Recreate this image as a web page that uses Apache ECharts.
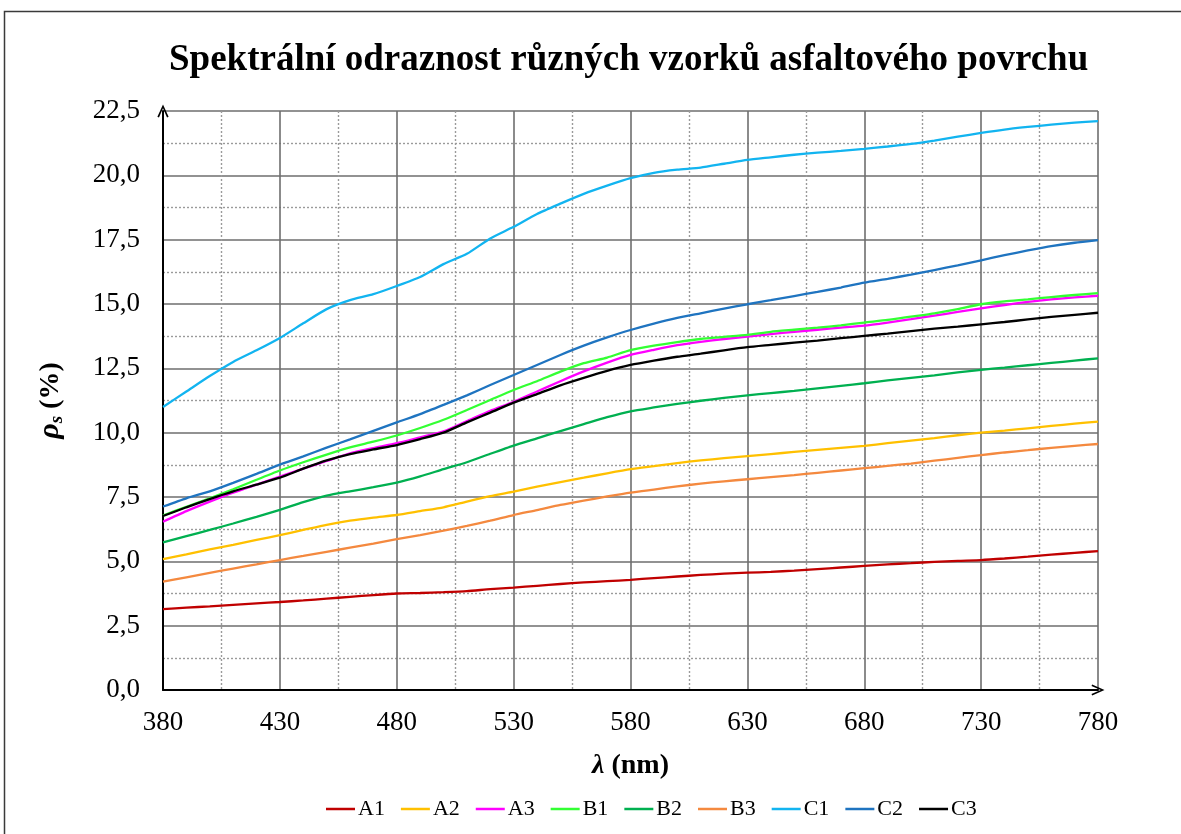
<!DOCTYPE html>
<html>
<head>
<meta charset="utf-8">
<title>Spektrální odraznost asfaltu</title>
<script src="https://cdn.jsdelivr.net/npm/echarts@6/dist/echarts.min.js"></script>
<style>
  html, body { margin: 0; padding: 0; background: #fff; }
  #chart { width: 1181px; height: 834px; }
</style>
</head>
<body>
<div id="chart"></div>
<script>
// Wavelengths (nm), sampled every 10 nm
const wavelengths = [380, 390, 400, 410, 420, 430, 440, 450, 460, 470, 480, 490, 500, 510, 520, 530, 540, 550, 560, 570, 580,
                     590, 600, 610, 620, 630, 640, 650, 660, 670, 680, 690, 700, 710, 720, 730, 740, 750, 760, 770, 780];

// Spectral reflectance (%) of each sample
const A1 = [3.14, 3.20, 3.25, 3.31, 3.37, 3.42, 3.48, 3.55, 3.62, 3.69, 3.75, 3.77, 3.80, 3.84, 3.92, 3.98, 4.05, 4.12, 4.18, 4.23, 4.28,
            4.35, 4.41, 4.47, 4.52, 4.56, 4.59, 4.64, 4.70, 4.76, 4.82, 4.88, 4.93, 4.98, 5.02, 5.05, 5.11, 5.18, 5.26, 5.33, 5.40];
const A2 = [5.09, 5.27, 5.46, 5.64, 5.83, 6.02, 6.22, 6.42, 6.58, 6.70, 6.80, 6.95, 7.10, 7.32, 7.53, 7.71, 7.90, 8.08, 8.25, 8.42, 8.58,
            8.70, 8.82, 8.92, 9.01, 9.09, 9.17, 9.25, 9.33, 9.41, 9.49, 9.59, 9.69, 9.79, 9.90, 10.00, 10.08, 10.17, 10.26, 10.35, 10.43];
const A3 = [6.54, 6.95, 7.32, 7.67, 7.98, 8.29, 8.60, 8.90, 9.20, 9.40, 9.59, 9.82, 10.05, 10.45, 10.85, 11.20, 11.60, 12.00, 12.38, 12.72, 13.02,
            13.22, 13.40, 13.53, 13.64, 13.73, 13.83, 13.92, 14.00, 14.08, 14.16, 14.28, 14.41, 14.55, 14.69, 14.83, 14.96, 15.08, 15.18, 15.26, 15.32];
const B1 = [6.78, 7.12, 7.45, 7.80, 8.17, 8.53, 8.85, 9.15, 9.43, 9.65, 9.89, 10.18, 10.50, 10.88, 11.27, 11.66, 12.00, 12.37, 12.70, 12.92, 13.21,
            13.38, 13.52, 13.64, 13.72, 13.80, 13.92, 14.00, 14.08, 14.17, 14.28, 14.38, 14.51, 14.64, 14.80, 14.99, 15.10, 15.18, 15.27, 15.35, 15.42];
const B2 = [5.74, 5.98, 6.22, 6.47, 6.73, 7.00, 7.30, 7.55, 7.72, 7.88, 8.06, 8.30, 8.58, 8.85, 9.18, 9.50, 9.78, 10.06, 10.33, 10.60, 10.83,
            10.98, 11.12, 11.24, 11.35, 11.45, 11.54, 11.62, 11.72, 11.82, 11.92, 12.03, 12.13, 12.23, 12.34, 12.44, 12.53, 12.62, 12.71, 12.80, 12.89];
const B3 = [4.21, 4.38, 4.55, 4.72, 4.88, 5.05, 5.21, 5.37, 5.53, 5.69, 5.86, 6.02, 6.19, 6.38, 6.58, 6.80, 6.99, 7.19, 7.36, 7.52, 7.67,
            7.79, 7.91, 8.02, 8.11, 8.19, 8.27, 8.35, 8.44, 8.53, 8.62, 8.71, 8.80, 8.91, 9.02, 9.13, 9.23, 9.32, 9.41, 9.49, 9.56];
const C1 = [11.00, 11.60, 12.20, 12.75, 13.20, 13.68, 14.25, 14.80, 15.15, 15.38, 15.70, 16.05, 16.55, 16.95, 17.55, 18.00, 18.50, 18.90, 19.28, 19.60, 19.89,
            20.10, 20.22, 20.30, 20.45, 20.60, 20.70, 20.80, 20.88, 20.95, 21.03, 21.12, 21.22, 21.35, 21.50, 21.65, 21.78, 21.88, 21.97, 22.05, 22.11];
const C2 = [7.13, 7.45, 7.72, 8.05, 8.40, 8.76, 9.08, 9.42, 9.74, 10.07, 10.40, 10.72, 11.08, 11.45, 11.85, 12.24, 12.63, 13.02, 13.38, 13.70, 13.99,
            14.24, 14.46, 14.64, 14.82, 14.99, 15.15, 15.31, 15.47, 15.64, 15.83, 15.98, 16.14, 16.32, 16.50, 16.70, 16.90, 17.08, 17.25, 17.38, 17.48];
const C3 = [6.76, 7.10, 7.42, 7.72, 7.98, 8.25, 8.60, 8.92, 9.17, 9.35, 9.52, 9.75, 10.00, 10.40, 10.78, 11.17, 11.50, 11.84, 12.13, 12.40, 12.63,
            12.80, 12.95, 13.07, 13.20, 13.32, 13.41, 13.50, 13.58, 13.67, 13.76, 13.85, 13.95, 14.04, 14.12, 14.21, 14.30, 14.40, 14.50, 14.58, 14.66];

const seriesNames = ['A1', 'A2', 'A3', 'B1', 'B2', 'B3', 'C1', 'C2', 'C3'];
const seriesValues = [A1, A2, A3, B1, B2, B3, C1, C2, C3];
const seriesColors = ['#C00000', '#FFC000', '#FF00FF', '#33FF33', '#00B050', '#F4893F', '#12B4F0', '#1F74C0', '#000000'];

// The wavelength axis starts at 380 nm; ticks are counted from this origin
const WL_START = 380;
const WL_END = 780;

const FONT = '"Liberation Serif", "Times New Roman", serif';
const fmtComma = v => v.toFixed(1).replace('.', ',');

const chart = echarts.init(document.getElementById('chart'), null, { renderer: 'canvas' });

const arrowPath = 'path://M0,11 L5,0 L10,11 L8.6,11.6 L5,3.4 L1.4,11.6 Z';

chart.setOption({
  animation: false,
  backgroundColor: '#ffffff',
  textStyle: { fontFamily: FONT, color: '#000' },
  title: {
    text: 'Spektrální odraznost různých vzorků asfaltového povrchu',
    left: 164,
    top: 37,
    textStyle: { fontFamily: FONT, fontWeight: 'bold', fontSize: 37, color: '#000' }
  },
  graphic: [{
    type: 'rect',
    shape: { x: 4.5, y: 11.5, width: 1300, height: 900 },
    style: { fill: 'none', stroke: '#3a3a3a', lineWidth: 1.5 },
    silent: true
  }],
  legend: {
    left: 321,
    top: 793,
    icon: 'rect',
    itemWidth: 29,
    itemHeight: 2.5,
    itemGap: 16,
    textStyle: { fontFamily: FONT, fontSize: 22, color: '#000', padding: [0, 0, 0, -2] },
    data: seriesNames
  },
  grid: { left: 163, right: 83, top: 111, bottom: 144, containLabel: false },
  xAxis: {
    type: 'value',
    min: 0,
    max: WL_END - WL_START,
    interval: 50,
    name: '{l|λ} (nm)',
    nameLocation: 'middle',
    nameGap: 62,
    nameTextStyle: {
      fontFamily: FONT, fontSize: 28, fontWeight: 'bold', color: '#000',
      rich: { l: { fontFamily: FONT, fontSize: 28, fontWeight: 'bold', fontStyle: 'italic', color: '#000' } }
    },
    axisLine: {
      show: true, onZero: false,
      symbol: ['none', arrowPath], symbolSize: [13, 13],
      lineStyle: { color: '#000', width: 2 }
    },
    axisTick: { show: false },
    axisLabel: {
      margin: 19, fontSize: 27, fontFamily: FONT, color: '#000',
      formatter: v => String(v + WL_START)
    },
    splitLine: { show: true, lineStyle: { color: '#6e6e6e', width: 1.6 } },
    minorTick: { show: false, splitNumber: 2 },
    minorSplitLine: { show: true, lineStyle: { color: '#9a9a9a', width: 1.4, type: [2, 2] } }
  },
  yAxis: {
    type: 'value',
    min: 0,
    max: 22.5,
    interval: 2.5,
    name: '{r|ρ}{s|s}{n| (%)}',
    nameLocation: 'middle',
    nameRotate: 90,
    nameGap: 96,
    nameTextStyle: {
      fontFamily: FONT, fontSize: 28, fontWeight: 'bold', color: '#000',
      rich: {
        r: { fontFamily: FONT, fontSize: 30, fontWeight: 'bold', fontStyle: 'italic', color: '#000' },
        s: { fontFamily: FONT, fontSize: 19, fontWeight: 'bold', fontStyle: 'italic', color: '#000', padding: [14, 0, 0, 0] },
        n: { fontFamily: FONT, fontSize: 28, fontWeight: 'bold', color: '#000' }
      }
    },
    axisLine: {
      show: true, onZero: false,
      symbol: ['none', arrowPath], symbolSize: [13, 13],
      lineStyle: { color: '#000', width: 2 }
    },
    axisTick: { show: false },
    axisLabel: { margin: 23, fontSize: 27, fontFamily: FONT, color: '#000', formatter: fmtComma },
    splitLine: { show: true, lineStyle: { color: '#6e6e6e', width: 1.6 } },
    minorTick: { show: false, splitNumber: 2 },
    minorSplitLine: { show: true, lineStyle: { color: '#9a9a9a', width: 1.4, type: [2, 2] } }
  },
  series: seriesNames.map((name, i) => ({
    name: name,
    type: 'line',
    showSymbol: false,
    smooth: 0.2,
    color: seriesColors[i],
    lineStyle: { width: 2.3, color: seriesColors[i] },
    data: wavelengths.map((w, k) => [w - WL_START, seriesValues[i][k]]),
    z: 3 + i
  }))
});
</script>
</body>
</html>
